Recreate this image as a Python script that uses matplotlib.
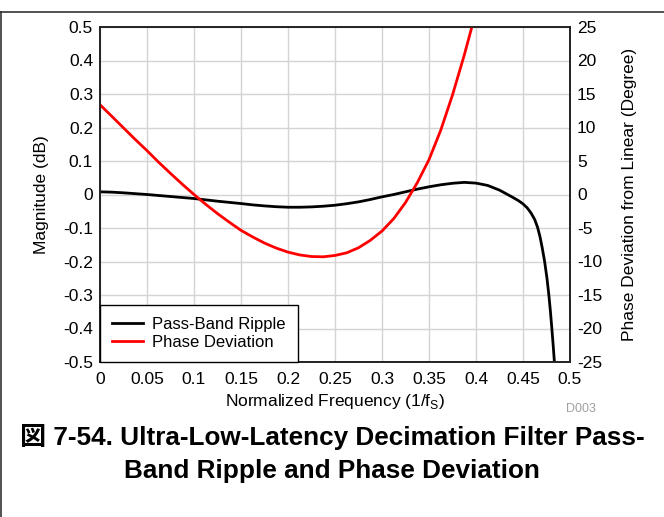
import matplotlib
matplotlib.use("Agg")
import matplotlib.pyplot as plt
from matplotlib.lines import Line2D
from matplotlib.ticker import FixedLocator, FixedFormatter

plt.rcParams['font.family'] = ['Liberation Sans', 'Noto Sans CJK JP', 'DejaVu Sans']
plt.rcParams['axes.unicode_minus'] = False

# Pass-band ripple (dB), left axis
ripple_x = [0.0, 0.0125, 0.025, 0.0375, 0.05, 0.0625, 0.075, 0.0875, 0.1, 0.1125,
            0.125, 0.1375, 0.15, 0.1625, 0.175, 0.1875, 0.2, 0.2125, 0.225, 0.2375,
            0.25, 0.2625, 0.275, 0.2875, 0.3, 0.3125, 0.325, 0.3375, 0.35, 0.3625,
            0.375, 0.3875, 0.4, 0.4125, 0.425, 0.4375, 0.445, 0.45, 0.4545, 0.4585,
            0.4625, 0.4655, 0.468, 0.4705, 0.473, 0.4755, 0.4775, 0.4792, 0.4807, 0.4821,
            0.4834, 0.485]
ripple_db = [0.008, 0.007, 0.005, 0.0025, 0.0, -0.003, -0.006, -0.009, -0.012, -0.016,
             -0.020, -0.0235, -0.027, -0.031, -0.034, -0.0365, -0.038, -0.038, -0.037, -0.035,
             -0.032, -0.0275, -0.022, -0.015, -0.007, 0.0, 0.008, 0.016, 0.023, 0.029,
             0.0335, 0.0362, 0.034, 0.027, 0.013, -0.006, -0.018, -0.028, -0.040, -0.055,
             -0.075, -0.098, -0.125, -0.160, -0.200, -0.250, -0.300, -0.350, -0.400, -0.450,
             -0.500, -0.560]

# Phase deviation (degree), right axis
phase_x = [0.0, 0.0125, 0.025, 0.0375, 0.05, 0.0625, 0.075, 0.0875, 0.1, 0.1125,
           0.125, 0.1375, 0.15, 0.1625, 0.175, 0.1875, 0.2, 0.2125, 0.225, 0.2375,
           0.25, 0.2625, 0.275, 0.2875, 0.3, 0.3125, 0.325, 0.3375, 0.35, 0.3625,
           0.375, 0.3875, 0.4]
phase_deg = [13.4, 11.68, 9.94, 8.21, 6.55, 4.80, 3.15, 1.54, 0.0, -1.47,
             -2.85, -4.13, -5.35, -6.34, -7.25, -8.00, -8.6, -9.02, -9.26, -9.30,
             -9.1, -8.7, -7.95, -6.85, -5.45, -3.6, -1.2, 1.75, 5.2, 9.6,
             14.85, 20.8, 27.3]

x_ticks = [0, 0.05, 0.1, 0.15, 0.2, 0.25, 0.3, 0.35, 0.4, 0.45, 0.5]
x_labels = ["0", "0.05", "0.1", "0.15", "0.2", "0.25", "0.3", "0.35", "0.4", "0.45", "0.5"]
left_ticks = [0.5, 0.4, 0.3, 0.2, 0.1, 0, -0.1, -0.2, -0.3, -0.4, -0.5]
left_labels = ["0.5", "0.4", "0.3", "0.2", "0.1", "0", "-0.1", "-0.2", "-0.3", "-0.4", "-0.5"]
right_ticks = [25, 20, 15, 10, 5, 0, -5, -10, -15, -20, -25]
right_labels = ["25", "20", "15", "10", "5", "0", "-5", "-10", "-15", "-20", "-25"]

fig = plt.figure(figsize=(6.64, 5.17), dpi=100)
ax = fig.add_axes([100/664, 1 - 362/517, 470/664, 335/517])
ax2 = ax.twinx()

ax.set_xlim(0, 0.5)
ax.set_ylim(-0.5, 0.5)
ax2.set_ylim(-25, 25)

ax.xaxis.set_major_locator(FixedLocator(x_ticks))
ax.xaxis.set_major_formatter(FixedFormatter(x_labels))
ax.yaxis.set_major_locator(FixedLocator(left_ticks))
ax.yaxis.set_major_formatter(FixedFormatter(left_labels))
ax2.yaxis.set_major_locator(FixedLocator(right_ticks))
ax2.yaxis.set_major_formatter(FixedFormatter(right_labels))

ax.grid(True, color='#d4d4d4', linewidth=1.0)
ax.set_axisbelow(True)

for a in (ax, ax2):
    a.tick_params(length=0, labelsize=12.5, colors='black', pad=5)
    for s in a.spines.values():
        s.set_color('#222222')
        s.set_linewidth(1.2)
ax.tick_params(axis='x', pad=7)

l1, = ax.plot(ripple_x, ripple_db, color='black', linewidth=2.0, label='Pass-Band Ripple')
l2, = ax2.plot(phase_x, phase_deg, color='#ff0000', linewidth=2.0, label='Phase Deviation')

ax.set_ylabel('Magnitude (dB)', fontsize=12.5, labelpad=10)
ax2.set_ylabel('Phase Deviation from Linear (Degree)', fontsize=12.5, labelpad=14)
ax.set_xlabel('Normalized Frequency (1/f$_\\mathregular{S}$)', fontsize=12.5, labelpad=4)

leg = ax2.legend(handles=[l1, l2], loc='lower left', borderaxespad=0, fontsize=12,
                 frameon=True, fancybox=False, framealpha=1, edgecolor='black',
                 handlelength=1.9, handletextpad=0.55, borderpad=0.7, labelspacing=0.2)
leg.get_frame().set_linewidth(1.0)

fig.text(581/664, 1 - 409/517, 'D003', color='#a0a0a0', fontsize=9, ha='center', va='center')

fig.text(0.5, 1 - 437/517, '図 7-54. Ultra-Low-Latency Decimation Filter Pass-',
         fontsize=18.8, fontweight='bold', ha='center', va='center')
fig.text(0.5, 1 - 471/517, 'Band Ripple and Phase Deviation',
         fontsize=18.8, fontweight='bold', ha='center', va='center')

# outer frame lines (top and left)
fig.add_artist(Line2D([0, 1], [1 - 11.5/517, 1 - 11.5/517], transform=fig.transFigure,
                      color='#333333', linewidth=1.2))
fig.add_artist(Line2D([0.8/664, 0.8/664], [0, 1 - 11.5/517], transform=fig.transFigure,
                      color='#333333', linewidth=1.2))

fig.savefig('out.png', dpi=100)
